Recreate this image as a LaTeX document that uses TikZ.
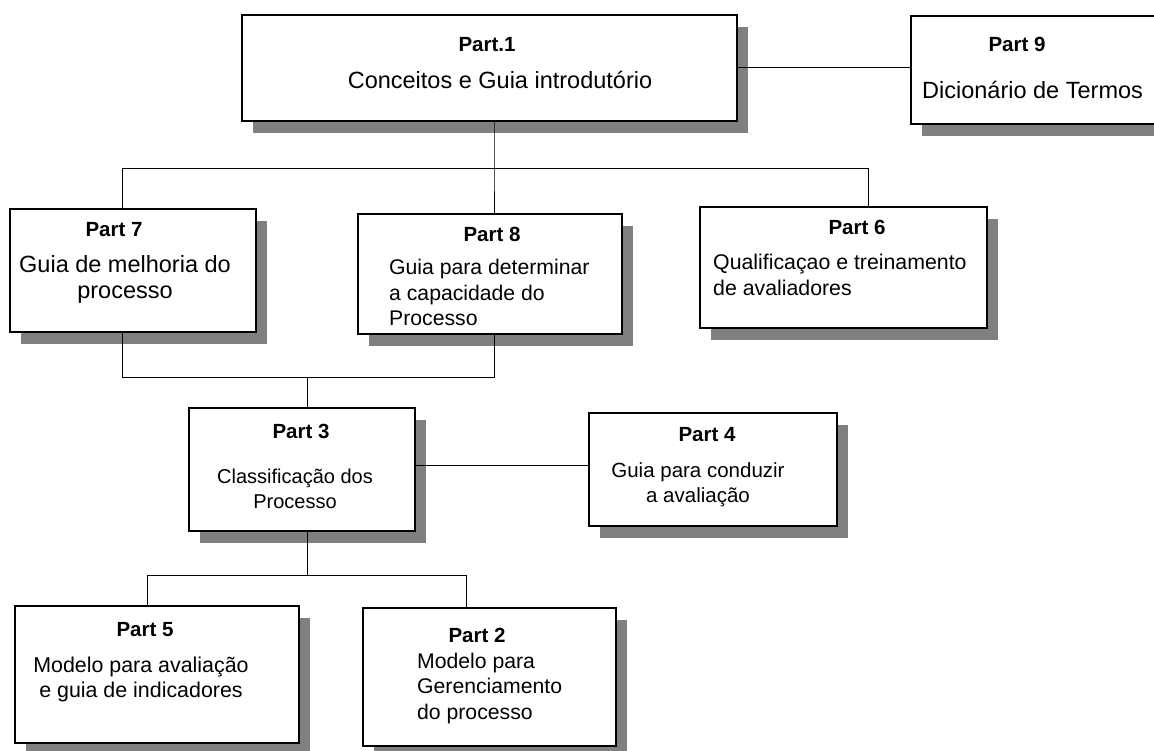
\documentclass[tikz,border=0pt]{standalone}
\usepackage{fontspec}
\setmainfont{Liberation Sans}
\usetikzlibrary{shadows}
\definecolor{shadowgray}{RGB}{128,128,128}
% text blocks whose anchor "base" sits on the baseline of the first line
\newcommand\centerlines[1]{\vtop{\halign{\hfil##\hfil\cr#1\crcr}}}
\newcommand\leftlines[1]{\vtop{\halign{##\hfil\cr#1\crcr}}}
\newcommand\fsz[1]{\fontsize{#1}{25.5}\selectfont}
\begin{document}
\begin{tikzpicture}[x=1pt,y=-1pt,
  partbox/.style={draw=black, line width=1.3pt, fill=white, inner sep=0pt, outer sep=0pt,
    drop shadow={shadow xshift=11pt, shadow yshift=-12pt, fill=shadowgray, opacity=1}},
  parttitle/.style={font=\bfseries\fontsize{20.5}{24}\selectfont, anchor=base, inner sep=0pt},
  parttext/.style={inner sep=0pt, anchor=base},
  link/.style={line width=1pt, draw=black}]
\fill[white] (0,0) rectangle (1154,751);
\useasboundingbox (0,0) rectangle (1154,751);

% boxes
\node[partbox, minimum width=495pt, minimum height=106pt] (p1) at (489.5,68) {};
\node[partbox, minimum width=255pt, minimum height=108pt] (p9) at (1038.5,70) {};
\node[partbox, minimum width=246pt, minimum height=123pt] (p7) at (133,270.5) {};
\node[partbox, minimum width=264pt, minimum height=120pt] (p8) at (490,274) {};
\node[partbox, minimum width=287pt, minimum height=121pt] (p6) at (843.5,267.5) {};
\node[partbox, minimum width=226pt, minimum height=123pt] (p3) at (302,469.5) {};
\node[partbox, minimum width=248pt, minimum height=113pt] (p4) at (713,469.5) {};
\node[partbox, minimum width=284pt, minimum height=137pt] (p5) at (157,674.5) {};
\node[partbox, minimum width=253pt, minimum height=138pt] (p2) at (489.5,677) {};

% labels
\node[parttitle] (t1) at (487,52) {Part.1};
\node[parttext, font=\fsz{23.5}] (x1) at (500,89) {Conceitos e Guia introdutório};

\node[parttitle] (t9) at (1017,52) {Part 9};
\node[parttext, anchor=base west, font=\fsz{23.5}] (x9) at (922,99) {Dicionário de Termos};

\node[parttitle] (t7) at (114,237) {Part 7};
\node[parttext, font=\fsz{23.5}] (x7) at (125,273) {\centerlines{Guia de melhoria do\cr processo}};

\node[parttitle] (t8) at (492,242) {Part 8};
\node[parttext, anchor=base west, font=\fsz{21.2}] (x8) at (389,275)
  {\leftlines{Guia para determinar\cr a capacidade do\cr Processo}};

\node[parttitle] (t6) at (857,235) {Part 6};
\node[parttext, anchor=base west, font=\fsz{21.3}] (x6) at (713,270)
  {\leftlines{Qualificaçao e treinamento\cr de avaliadores}};

\node[parttitle] (t3) at (301,438) {Part 3};
\node[parttext, font=\fsz{20}] (x3) at (295,483) {\centerlines{Classificação dos\cr Processo}};

\node[parttitle] (t4) at (707,441) {Part 4};
\node[parttext, font=\fsz{20.5}] (x4) at (698,477) {\centerlines{Guia para conduzir\cr a avaliação}};

\node[parttitle] (t5) at (145,636) {Part 5};
\node[parttext, font=\fsz{21.4}] (x5) at (141,672) {\centerlines{Modelo para avaliação\cr e guia de indicadores}};

\node[parttitle] (t2) at (477,642) {Part 2};
\node[parttext, anchor=base west, font=\fsz{21.2}] (x2) at (417,668)
  {\leftlines{Modelo para\cr Gerenciamento\cr do processo}};

% junction points of the tree
\coordinate (ja) at (494,169);
\coordinate (jl) at (122,169);
\coordinate (jr) at (868,169);
\coordinate (jm) at (307,377);
\coordinate (jb) at (307,575);
\coordinate (jbl) at (147,575);
\coordinate (jbr) at (466,575);
\coordinate (h34) at (500,465);

% connectors
\draw[link] (p1.east) -- (p1.east -| p9.west);
\draw[link] (ja |- p1.south) -- (ja) -- (ja |- p8.north);
\draw[link] (jl |- p7.north) -- (jl) -- (jr) -- (jr |- p6.north);
\draw[link] (jl |- p7.south) -- (jl |- jm) -- (ja |- jm) -- (ja |- p8.south);
\draw[link] (jm) -- (jm |- p3.north);
\draw[link] (h34 -| p3.east) -- (h34 -| p4.west);
\draw[link] (jb |- p3.south) -- (jb);
\draw[link] (jbl |- p5.north) -- (jbl) -- (jbr) -- (jbr |- p2.north);
\end{tikzpicture}
\end{document}
